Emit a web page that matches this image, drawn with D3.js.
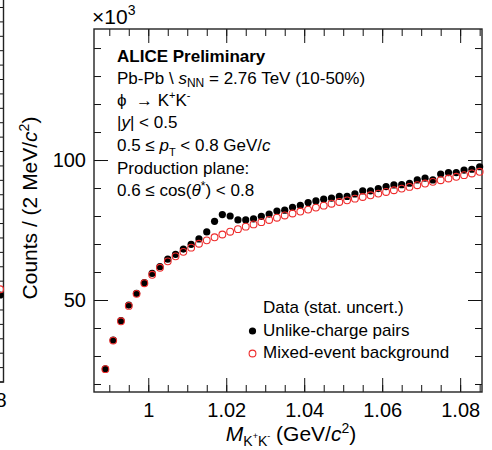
<!DOCTYPE html>
<html>
<head>
<meta charset="utf-8">
<script src="https://cdn.jsdelivr.net/npm/d3@7"></script>
<style>
  body { margin: 0; background: #fff; }
  text { font-family: "Liberation Sans", Arial, Helvetica, sans-serif; fill: #000; white-space: pre; }
</style>
</head>
<body>
<div id="chart"></div>
<script>
// invariant mass bin centres (GeV/c^2)
var massBins = [0.989, 0.991, 0.993, 0.995, 0.997, 0.999, 1.001, 1.003, 1.005, 1.007,
  1.009, 1.011, 1.013, 1.015, 1.017, 1.019, 1.021, 1.023, 1.025, 1.027,
  1.029, 1.031, 1.033, 1.035, 1.037, 1.039, 1.041, 1.043, 1.045, 1.047,
  1.049, 1.051, 1.053, 1.055, 1.057, 1.059, 1.061, 1.063, 1.065, 1.067,
  1.069, 1.071, 1.073, 1.075, 1.077, 1.079, 1.081, 1.083, 1.085];

// counts in units of 10^3
var unlikeCounts = [25.4, 35.7, 42.6, 48.2, 52.4, 56.2, 59.5, 61.9, 64.6, 66.3,
  68.2, 69.9, 71.8, 74.3, 78.1, 80.5, 80.0, 78.6, 78.6, 79.0,
  79.9, 80.7, 81.8, 82.1, 83.1, 83.8, 84.8, 85.4, 86.0, 86.4,
  87.0, 87.0, 87.9, 89.0, 89.0, 89.8, 90.5, 91.1, 91.2, 91.7,
  92.9, 93.5, 92.9, 95.0, 95.5, 95.5, 96.4, 96.7, 97.6];

var mixedCounts = [25.3, 35.5, 42.4, 47.9, 52.2, 56.0, 59.0, 61.5, 63.8, 65.6,
  67.2, 68.7, 70.1, 71.3, 72.4, 73.4, 74.4, 75.3, 76.2, 77.0,
  77.8, 78.6, 79.4, 80.2, 80.9, 81.6, 82.3, 83.0, 83.7, 84.4,
  85.0, 85.6, 86.2, 86.8, 87.4, 88.0, 88.6, 89.2, 89.8, 90.4,
  91.0, 91.6, 92.2, 92.8, 93.4, 94.0, 94.6, 95.2, 95.8];

var xTickValues = [1, 1.02, 1.04, 1.06, 1.08];
var xTickLabels = ["1", "1.02", "1.04", "1.06", "1.08"];
var yTickValues = [50, 100];
var yTickLabels = ["50", "100"];

// neighbouring panel, only its right edge shows
var stubMass = [1.0835];
var stubCounts = [50.2];
var stubTickLabel = ["1.08"];

var W = 492, H = 450;
var frame = {left: 94, right: 482, top: 29, bottom: 392};
var red = "#ee2b2b";

var svg = d3.select("#chart").append("svg")
  .attr("width", W)
  .attr("height", H);

var x = d3.scaleLinear().domain([0.98608, 1.0856]).range([frame.left, frame.right]);
var y = d3.scaleLinear().domain([17.14, 146.8]).range([frame.bottom, frame.top]);

function tickAxis(axis, pos, size, values, labels, pad) {
  axis.tickValues(values).tickSize(size).tickPadding(pad || 0)
    .tickFormat(function(d, i) { return labels ? labels[i] : ""; });
  var g = svg.append("g").attr("transform", pos).call(axis);
  g.select(".domain").remove();
  g.selectAll("line").attr("stroke", "#111").attr("stroke-width", 1);
  g.selectAll("text").attr("font-family", null).attr("font-size", null).style("font-size", "20px");
  return g;
}

var xMinor = d3.range(0.99, 1.0856, 0.005);
var yMinor = d3.range(20, 146, 10);

// bottom / top
tickAxis(d3.axisBottom(x), "translate(0," + frame.bottom + ")", -14, xTickValues, xTickLabels, 11);
tickAxis(d3.axisBottom(x), "translate(0," + frame.bottom + ")", -7, xMinor, null);
tickAxis(d3.axisTop(x), "translate(0," + frame.top + ")", -14, xTickValues, null);
tickAxis(d3.axisTop(x), "translate(0," + frame.top + ")", -7, xMinor, null);
// left / right
tickAxis(d3.axisLeft(y), "translate(" + frame.left + ",0)", -14, yTickValues, yTickLabels, 8);
tickAxis(d3.axisLeft(y), "translate(" + frame.left + ",0)", -7, yMinor, null);
tickAxis(d3.axisRight(y), "translate(" + frame.right + ",0)", -14, yTickValues, null);
tickAxis(d3.axisRight(y), "translate(" + frame.right + ",0)", -7, yMinor, null);

svg.append("rect")
  .attr("x", frame.left).attr("y", frame.top)
  .attr("width", frame.right - frame.left).attr("height", frame.bottom - frame.top)
  .attr("fill", "none").attr("stroke", "#222").attr("stroke-width", 1.4);

// helper for sub/superscripts
function rich(t, parts) {
  var cur = 0;
  parts.forEach(function(p) {
    var off = p.off || 0;
    t.append("tspan")
      .attr("dy", off - cur)
      .style("font-size", p.size ? p.size + "px" : null)
      .style("font-style", p.it ? "italic" : null)
      .text(p.t);
    cur = off;
  });
  return t;
}

// data points
var points = massBins.map(function(m, i) {
  return {m: m, unlike: unlikeCounts[i], mixed: mixedCounts[i]};
});

svg.append("g").selectAll("circle")
  .data(points).enter().append("circle")
  .attr("cx", function(d) { return x(d.m); })
  .attr("cy", function(d) { return y(d.unlike); })
  .attr("r", 3.6)
  .attr("fill", "#000");

svg.append("g").selectAll("circle")
  .data(points).enter().append("circle")
  .attr("cx", function(d) { return x(d.m); })
  .attr("cy", function(d) { return y(d.mixed); })
  .attr("r", 3.4)
  .attr("fill", "none")
  .attr("stroke", red)
  .attr("stroke-width", 1.1);

// multiplier
rich(svg.append("text").attr("x", 92).attr("y", 24).style("font-size", "21px"),
  [{t: "\u00d710"}, {t: "3", size: 14, off: -9}]);

// axis titles
rich(svg.append("text")
  .attr("x", 291).attr("y", 441)
  .attr("text-anchor", "middle")
  .style("font-size", "21px"),
  [{t: "M", it: true}, {t: "K", size: 14, off: 5}, {t: "+", size: 9, off: -2},
   {t: "K", size: 14, off: 5}, {t: "-", size: 9, off: -2}, {t: " (GeV/"},
   {t: "c", it: true}, {t: "2", size: 14, off: -8}, {t: ")"}]);

rich(svg.append("text")
  .attr("transform", "translate(37,208) rotate(-90)")
  .attr("text-anchor", "middle")
  .style("font-size", "21px"),
  [{t: "Counts / (2 MeV/"}, {t: "c", it: true}, {t: "2", size: 14, off: -8}, {t: ")"}]);

// info block
var tx = 117;
svg.append("text").attr("x", tx).attr("y", 62)
  .style("font-size", "17px").style("font-weight", "bold")
  .text("ALICE Preliminary");

function infoLine(yPos, parts) {
  return rich(svg.append("text").attr("x", tx).attr("y", yPos).style("font-size", "17px"), parts);
}
infoLine(84, [{t: "Pb-Pb \\ "}, {t: "s", it: true}, {t: "NN", size: 12, off: 3},
  {t: " = 2.76 TeV (10-50%)"}]);
infoLine(106, [{t: "\u03d5  \u2192 K"}, {t: "+", size: 11, off: -7}, {t: "K"}, {t: "-", size: 11, off: -7}]);
infoLine(128, [{t: "|"}, {t: "y", it: true}, {t: "| < 0.5"}]);
infoLine(151, [{t: "0.5 \u2264 "}, {t: "p", it: true}, {t: "T", size: 11, off: 5},
  {t: " < 0.8 GeV/"}, {t: "c", it: true}]);
infoLine(174, [{t: "Production plane:"}]);
infoLine(196, [{t: "0.6 \u2264 cos("}, {t: "\u03b8", it: true}, {t: "*", size: 12, off: -6}, {t: ") < 0.8"}]);

// legend
var lx = 263;
svg.append("text").attr("x", lx).attr("y", 313).style("font-size", "17px").text("Data (stat. uncert.)");
svg.append("circle").attr("cx", 252.5).attr("cy", 331).attr("r", 3.6).attr("fill", "#000");
svg.append("text").attr("x", lx).attr("y", 336).style("font-size", "17px").text("Unlike-charge pairs");
svg.append("circle").attr("cx", 252.5).attr("cy", 353.5).attr("r", 3.4)
  .attr("fill", "none").attr("stroke", red).attr("stroke-width", 1.1);
svg.append("text").attr("x", lx).attr("y", 358).style("font-size", "17px").text("Mixed-event background");

// neighbouring panel edge
var stubX = d3.scaleLinear().domain([0.986, 1.08436]).range([-380, 3.5]);
var stubY = d3.scaleLinear().domain([20, 152.6]).range([382, 0]);
var stub = svg.append("g");
stub.selectAll("line.tk").data(d3.range(20, 152, 5)).enter().append("line")
  .attr("x1", 0).attr("x2", 3.5)
  .attr("y1", function(d) { return stubY(d); }).attr("y2", function(d) { return stubY(d); })
  .attr("stroke", "#111");
stub.append("path")
  .attr("d", "M3.5,0V" + stubY(20) + "H0")
  .attr("fill", "none").attr("stroke", "#222").attr("stroke-width", 1.4);
stub.selectAll("circle.bk").data(stubMass).enter().append("circle")
  .attr("cx", function(d) { return stubX(d); })
  .attr("cy", function(d, i) { return stubY(stubCounts[i]); })
  .attr("r", 3.6).attr("fill", "#000");
stub.selectAll("circle.rd").data(stubMass).enter().append("circle")
  .attr("cx", function(d) { return stubX(d); })
  .attr("cy", function(d, i) { return stubY(stubCounts[i] + 2); })
  .attr("r", 3.4).attr("fill", "none").attr("stroke", red).attr("stroke-width", 1.1);
stub.append("text")
  .attr("x", stubX(1.08) + 20).attr("y", 407)
  .attr("text-anchor", "end")
  .style("font-size", "20px")
  .text(stubTickLabel[0]);
</script>
</body>
</html>
